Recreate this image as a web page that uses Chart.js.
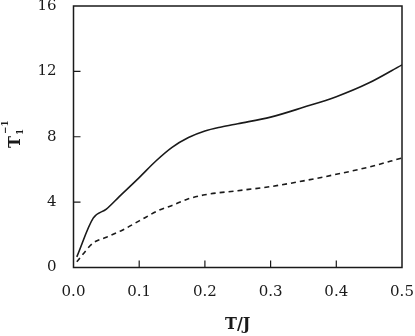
<!DOCTYPE html>
<html>
<head>
<meta charset="utf-8">
<script src="https://cdn.jsdelivr.net/npm/chart.js@4.4.0/dist/chart.umd.min.js"></script>
<style>
  html, body { margin: 0; padding: 0; background: #fff; }
  #wrap { width: 415px; height: 336px; position: relative; }
</style>
</head>
<body>
<div id="wrap"><canvas id="c"></canvas></div>
<script>
// T/J values and inverse relaxation time
const tempSolid = [0.005, 0.03, 0.05, 0.07, 0.1, 0.125, 0.15, 0.175, 0.2, 0.225, 0.25, 0.3, 0.35, 0.4, 0.45, 0.5];
const rateSolid = [0.65, 3.02, 3.57, 4.35, 5.5, 6.5, 7.35, 7.95, 8.35, 8.6, 8.8, 9.2, 9.8, 10.45, 11.3, 12.4];

const tempDashed = [0.005, 0.03, 0.05, 0.075, 0.1, 0.13, 0.15, 0.175, 0.2, 0.25, 0.3, 0.35, 0.4, 0.45, 0.5];
const rateDashed = [0.35, 1.5, 1.85, 2.3, 2.85, 3.5, 3.8, 4.2, 4.45, 4.7, 4.95, 5.3, 5.7, 6.15, 6.7];

const xTicks = [0, 0.1, 0.2, 0.3, 0.4, 0.5];
const yTicks = [0, 4, 8, 12, 16];

const INK = '#1a1a1a';
const FONT = 'DejaVu Serif';

const toPoints = (xs, ys) => xs.map((x, i) => ({ x: x, y: ys[i] }));

// no extra room for overhanging tick labels
const noPad = s => { s.paddingTop = s.paddingBottom = s.paddingLeft = s.paddingRight = 0; };

// frame, inward ticks and axis titles
const framePlugin = {
    id: 'frame',
    afterDraw(chart) {
        const ctx = chart.ctx;
        const a = chart.chartArea;
        const xs = chart.scales.x, ys = chart.scales.y;
        ctx.save();
        ctx.strokeStyle = INK;
        ctx.lineWidth = 1.5;
        ctx.strokeRect(a.left, a.top, a.right - a.left, a.bottom - a.top);

        ctx.lineWidth = 1.2;
        ctx.beginPath();
        xTicks.slice(1, -1).forEach(v => {
            const px = xs.getPixelForValue(v);
            ctx.moveTo(px, a.bottom);
            ctx.lineTo(px, a.bottom - 7);
        });
        yTicks.slice(1, -1).forEach(v => {
            const py = ys.getPixelForValue(v);
            ctx.moveTo(a.left, py);
            ctx.lineTo(a.left + 7, py);
        });
        ctx.stroke();

        // x title
        ctx.fillStyle = INK;
        ctx.font = 'bold 16px "' + FONT + '"';
        ctx.textAlign = 'center';
        ctx.textBaseline = 'middle';
        ctx.fillText('T/J', (a.left + a.right) / 2, 325);

        // y title: T with subscript 1 and superscript -1, rotated
        ctx.translate(13, 142);
        ctx.rotate(-Math.PI / 2);
        ctx.textAlign = 'left';
        ctx.textBaseline = 'alphabetic';
        ctx.font = 'bold 16px "' + FONT + '"';
        const tw = ctx.measureText('T').width;
        ctx.fillText('T', -tw / 2, 7);
        ctx.font = 'bold 9px "' + FONT + '"';
        ctx.fillText('1', tw / 2 + 1, 10);
        ctx.fillText('\u22121', tw / 2 + 2, -5);
        ctx.restore();
    }
};

new Chart(document.getElementById('c'), {
    type: 'line',
    data: {
        datasets: [
            {
                data: toPoints(tempSolid, rateSolid),
                borderColor: INK,
                borderWidth: 1.6,
                pointRadius: 0,
                cubicInterpolationMode: 'monotone',
                fill: false
            },
            {
                data: toPoints(tempDashed, rateDashed),
                borderColor: INK,
                borderWidth: 1.6,
                borderDash: [5, 4],
                pointRadius: 0,
                cubicInterpolationMode: 'monotone',
                fill: false
            }
        ]
    },
    options: {
        responsive: true,
        maintainAspectRatio: false,
        animation: false,
        layout: { padding: { left: 0, top: 6, right: 13, bottom: 0 } },
        plugins: { legend: { display: false }, tooltip: { enabled: false } },
        scales: {
            x: {
                type: 'linear',
                min: 0,
                max: 0.5,
                grid: { display: false },
                border: { display: false },
                afterBuildTicks: s => { s.ticks = xTicks.map(v => ({ value: v })); },
                afterFit: s => { s.height = 68.5; noPad(s); },
                ticks: {
                    color: INK,
                    padding: 8,
                    maxRotation: 0,
                    font: { family: FONT, size: 15 },
                    callback: v => v.toFixed(1)
                }
            },
            y: {
                min: 0,
                max: 16,
                grid: { display: false },
                border: { display: false },
                afterBuildTicks: s => { s.ticks = yTicks.map(v => ({ value: v })); },
                afterFit: s => { s.width = 73.5; noPad(s); },
                ticks: {
                    color: INK,
                    padding: 9,
                    font: { family: FONT, size: 15 }
                }
            }
        }
    },
    plugins: [framePlugin]
});
</script>
</body>
</html>
